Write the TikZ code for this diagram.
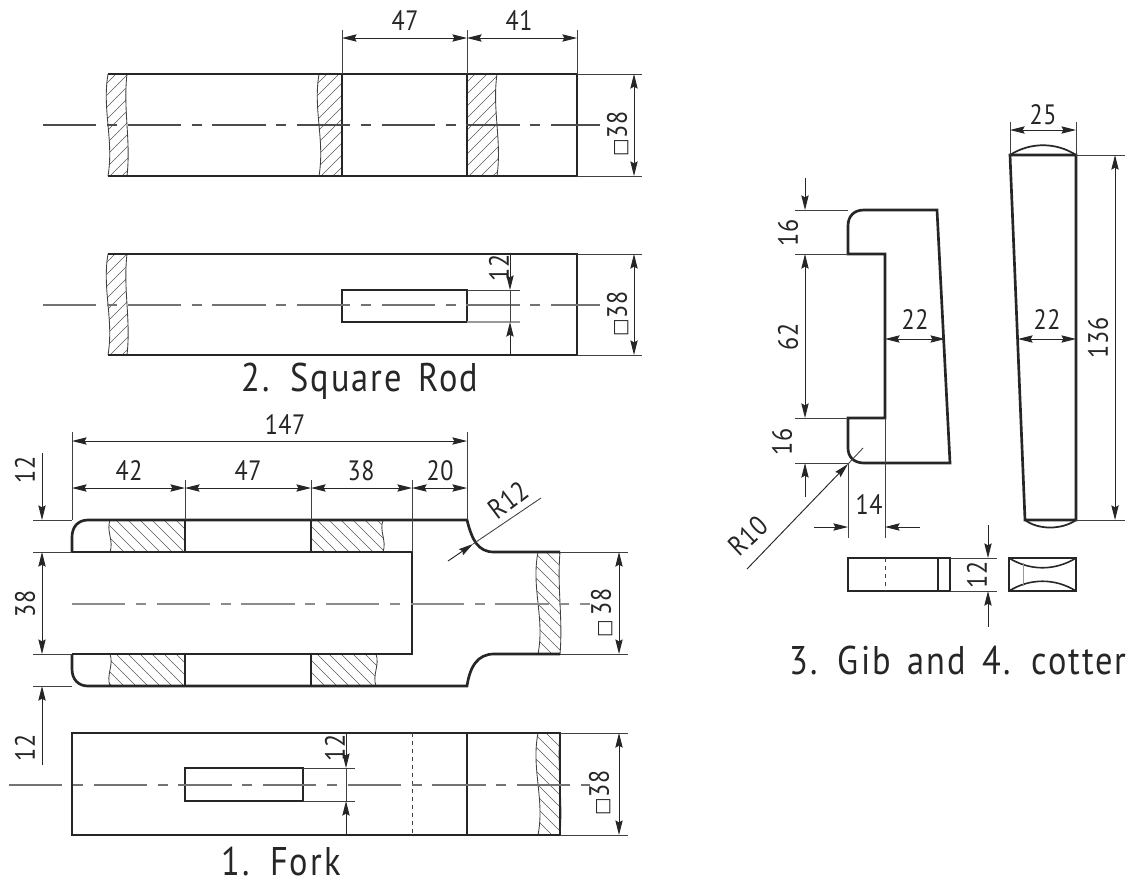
\documentclass[tikz,border=0pt]{standalone}
\usepackage{fontspec}
\usepackage{tikz}
\usetikzlibrary{arrows.meta}
\setmainfont{PT Sans}
\newfontfamily\dimfont[FakeStretch=.86,LetterSpace=2]{PT Sans}
\newfontfamily\titlefont[FakeStretch=.86,LetterSpace=5,WordSpace=1.5]{PT Sans}
\newfontfamily\symfont{DejaVu Sans}
\newcommand{\sqsym}{{\symfont\fontsize{14}{14}\selectfont □}}
\tikzset{
  obj/.style={line width=2pt,black!85},
  thin/.style={line width=.65pt,black!75},
  hatch/.style={line width=.5pt,black!65},
  cen/.style={line width=.8pt,black!70,dash pattern=on 40pt off 8pt on 7.5pt off 8pt},
  dimline/.style={line width=.7pt,black!85,{Stealth[length=11pt,width=5.5pt,inset=1.5pt]}-{Stealth[length=11pt,width=5.5pt,inset=1.5pt]}},
  lead/.style={line width=.7pt,black!85,-{Stealth[length=11pt,width=5.5pt,inset=1.5pt]}},
  lbl/.style={font=\dimfont\fontsize{21}{21}\selectfont,text=black!85,inner sep=0pt},
  title/.style={font=\titlefont\fontsize{30}{30}\selectfont,text=black!85,inner sep=0pt}
}
% xl xr ytop ybot wave-left wave-right slope
\newcommand{\hatchbar}[7]{
  \begin{scope}
    \clip (#1,#3) .. controls ({#1-#5},{#3+(#4-#3)*.35}) and ({#1+#5},{#3+(#4-#3)*.65}) .. (#1,#4)
      -- (#2,#4) .. controls ({#2+#6},{#3+(#4-#3)*.65}) and ({#2-#6},{#3+(#4-#3)*.35}) .. (#2,#3) -- cycle;
    \foreach \q in {-130,-118,...,160}
      \draw [hatch] ({#1+\q},#4) -- ({#1+\q+#7*(#4-#3)},#3);
  \end{scope}
  \draw [thin] (#1,#3) .. controls ({#1-#5},{#3+(#4-#3)*.35}) and ({#1+#5},{#3+(#4-#3)*.65}) .. (#1,#4);
  \draw [thin] (#2,#3) .. controls ({#2-#6},{#3+(#4-#3)*.35}) and ({#2+#6},{#3+(#4-#3)*.65}) .. (#2,#4);
}
\begin{document}
\begin{tikzpicture}[x=.75pt,y=-.75pt]
\useasboundingbox (0,0) rectangle (1138,886);

% square rod, upper view
\hatchbar{108}{127}{74}{176}{6}{4}{1}
\hatchbar{319}{342}{74}{176}{6}{0}{1}
\hatchbar{467}{497}{74}{176}{0}{5}{1}
\draw [obj] (108,74) -- (577,74) -- (577,176) -- (108,176);
\draw [obj] (342,74) -- (342,176);
\draw [obj] (467,74) -- (467,176);
\draw [cen] (43,125) -- (600,125);
\draw [thin] (342,30) -- (342,74);
\draw [thin] (467,30) -- (467,74);
\draw [thin] (577,30) -- (577,74);
\draw [thin] (577,74) -- (642,74);
\draw [thin] (577,176) -- (642,176);
\draw [dimline] (342,38) -- (467,38);
\draw [dimline] (467,38) -- (577,38);
\draw [dimline] (634,74) -- (634,176);
\node [lbl] (rodA) at (405,21) {47};
\node [lbl] (rodB) at (519,21) {41};
\node [lbl,rotate=90] (rodC) at (618,134) {\sqsym38};

% square rod, lower view
\hatchbar{108}{127}{254}{355}{6}{4}{1}
\draw [obj] (108,254) -- (577,254) -- (577,355) -- (108,355);
\draw [obj] (342,290) rectangle (467,322);
\draw [cen,black!55] (43,305) -- (600,305);
\draw [thin] (467,290) -- (520,290);
\draw [thin,black!40,line width=1pt] (467,322) -- (520,322);
\draw [thin] (577,254) -- (642,254);
\draw [thin] (577,355) -- (642,355);
\draw [lead] (510,254) -- (510,290);
\draw [lead] (510,355) -- (510,322);
\draw [thin] (510,290) -- (510,322);
\draw [dimline] (634,254) -- (634,355);
\node [lbl,rotate=90] (rodD) at (499,268) {12};
\node [lbl,rotate=90] (rodE) at (618,314) {\sqsym38};
\node [title] (rodT) at (360,381) {2. Square Rod};

% fork, upper view
\hatchbar{110}{185}{520}{552}{4}{0}{-1}
\hatchbar{311}{383}{520}{552}{0}{4}{-1}
\hatchbar{110}{185}{654}{686}{-4}{0}{-1}
\hatchbar{311}{376}{654}{686}{0}{-4}{-1}
\hatchbar{538}{560}{552}{654}{7}{3}{-1}
\draw [obj] (72,552) -- (72,537) .. controls (72,527) and (78,520) .. (88,520) -- (467,520)
  .. controls (472,540) and (478,552) .. (494,552) -- (560,552);
\draw [obj] (72,654) -- (72,669) .. controls (72,679) and (78,686) .. (88,686) -- (467,686)
  .. controls (470,666) and (478,654) .. (494,654) -- (560,654);
\draw [obj] (72,552) -- (412,552) -- (412,654) -- (72,654);
\draw [obj] (185,520) -- (185,552);
\draw [obj] (311,520) -- (311,552);
\draw [obj] (185,654) -- (185,686);
\draw [obj] (311,654) -- (311,686);
\draw [cen,black!45] (72,604) -- (590,604);
\draw [thin] (33,520) -- (72,520);
\draw [thin] (33,552) -- (72,552);
\draw [thin] (33,654) -- (72,654);
\draw [thin] (33,686) -- (72,686);
\draw [thin] (72,432) -- (72,520);
\draw [thin] (467,432) -- (467,520);
\draw [thin] (185,480) -- (185,520);
\draw [thin] (311,480) -- (311,520);
\draw [thin] (412,480) -- (412,552);
\draw [thin] (560,552) -- (628,552);
\draw [thin] (560,654) -- (628,654);
\draw [dimline] (72,441) -- (467,441);
\draw [dimline] (72,488) -- (185,488);
\draw [dimline] (185,488) -- (311,488);
\draw [dimline] (311,488) -- (412,488);
\draw [dimline] (412,488) -- (467,488);
\draw [lead] (42,453) -- (42,520);
\draw [dimline] (42,552) -- (42,654);
\draw [lead] (42,765) -- (42,686);
\draw [dimline] (619,552) -- (619,654);
\draw [lead] (448,561) -- (473,544);
\draw [thin] (473,544) -- (541,498);
\node [lbl] (forkA) at (285,425) {147};
\node [lbl] (forkB) at (129,471) {42};
\node [lbl] (forkC) at (248,471) {47};
\node [lbl] (forkD) at (361,471) {38};
\node [lbl] (forkE) at (440,471) {20};
\node [lbl,rotate=90] (forkF) at (25,470) {12};
\node [lbl,rotate=90] (forkG) at (25,604) {38};
\node [lbl,rotate=90] (forkH) at (25,748) {12};
\node [lbl,rotate=37] (forkI) at (508,500) {R12};
\node [lbl,rotate=90] (forkJ) at (602,613) {\sqsym\,38};

% fork, lower view
\hatchbar{538}{560}{733}{835}{7}{3}{-1}
\draw [obj] (72,733) rectangle (560,835);
\draw [obj] (467,733) -- (467,835);
\draw [obj] (185,768) rectangle (303,801);
\draw [thin,dashed] (412,733) -- (412,835);
\draw [cen,black!55,line width=1.5pt] (9,785) -- (590,785);
\draw [thin] (303,768) -- (355,768);
\draw [thin] (303,801) -- (355,801);
\draw [thin] (560,733) -- (628,733);
\draw [thin] (560,835) -- (628,835);
\draw [lead] (346,733) -- (346,768);
\draw [lead] (346,835) -- (346,801);
\draw [thin] (346,768) -- (346,801);
\draw [dimline] (619,733) -- (619,835);
\node [lbl,rotate=90] (forkK) at (335,748) {12};
\node [lbl,rotate=90] (forkL) at (600,793) {\sqsym38};
\node [title] (forkT) at (281,861) {1. Fork};

% gib
\draw [obj] (848,254) -- (848,226) .. controls (848,216) and (854,210) .. (864,210) -- (937,210)
  -- (950,463) -- (864,463) .. controls (854,463) and (848,457) .. (848,448)
  -- (848,418) -- (885,418) -- (885,254) -- cycle;
\draw [thin] (795,210) -- (848,210);
\draw [thin] (795,254) -- (848,254);
\draw [thin] (795,418) -- (848,418);
\draw [thin] (795,463) -- (848,463);
\draw [thin] (885,418) -- (885,538);
\draw [thin] (848,463) -- (848,538);
\draw [lead] (805,178) -- (805,210);
\draw [dimline] (805,254) -- (805,418);
\draw [lead] (805,497) -- (805,463);
\draw [dimline] (885,339) -- (945,339);
\draw [lead] (814,527) -- (848,527);
\draw [lead] (920,527) -- (885,527);
\draw [lead] (747,569) -- (848,464);
\draw [thin] (848,464) -- (863,448);
\node [lbl,rotate=90] (gibA) at (788,233) {16};
\node [lbl,rotate=90] (gibB) at (788,337) {62};
\node [lbl,rotate=90] (gibC) at (782,442) {16};
\node [lbl] (gibD) at (915,320) {22};
\node [lbl] (gibE) at (869,505) {14};
\node [lbl,rotate=43] (gibF) at (748,536) {R10};

% cotter
\draw [obj] (1010,155) -- (1076,155) -- (1076,520) -- (1025,520) -- cycle;
\draw [obj,line width=1.3pt] (1010,155) .. controls (1030,142) and (1056,142) .. (1076,155);
\draw [obj,line width=1.3pt] (1025,520) .. controls (1038,530) and (1062,530) .. (1076,520);
\draw [thin] (1010,122) -- (1010,155);
\draw [thin] (1076,122) -- (1076,155);
\draw [thin] (1076,155) -- (1125,155);
\draw [thin] (1076,520) -- (1125,520);
\draw [dimline] (1010,130) -- (1076,130);
\draw [dimline] (1018,339) -- (1076,339);
\draw [dimline] (1115,155) -- (1115,520);
\node [lbl] (cotA) at (1043,115) {25};
\node [lbl] (cotB) at (1047,320) {22};
\node [lbl,rotate=90] (cotC) at (1098,338) {136};

% end views
\draw [obj] (848,558) rectangle (950,591);
\draw [obj] (938,558) -- (938,591);
\draw [thin,dashed] (885,558) -- (885,591);
\draw [thin] (950,558) -- (997,558);
\draw [thin] (950,591) -- (997,591);
\draw [lead] (988,525) -- (988,558);
\draw [lead] (988,627) -- (988,591);
\node [lbl,rotate=90] (gibG) at (977,575) {12};
\draw [obj] (1009,558) rectangle (1076,591);
\draw [obj,line width=1.2pt] (1009,558) .. controls (1030,571) and (1055,571) .. (1076,558);
\draw [obj,line width=1.2pt] (1009,591) .. controls (1030,578) and (1055,578) .. (1076,591);
\draw [thin,black!40] (1023,563) -- (1023,586);
\node [title] (gibT) at (958,660) {3. Gib and 4. cotter};
\end{tikzpicture}
\end{document}
